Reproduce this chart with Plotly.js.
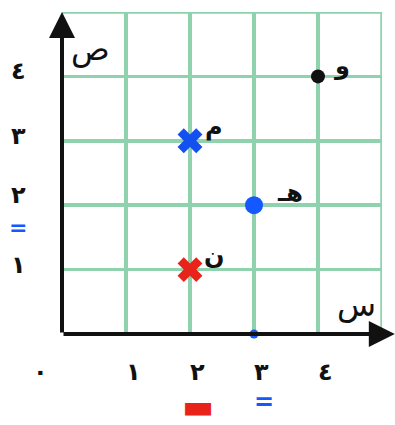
<!DOCTYPE html>
<html>
<head>
<meta charset="utf-8">
<script src="https://cdn.plot.ly/plotly-3.0.1.min.js"></script>
<style>
  body { margin: 0; background: #fff; }
  #chart { width: 395px; height: 425px; }
</style>
</head>
<body>
<div id="chart"></div>
<script>
// النقاط على الشبكة
const names = ['و', 'م', 'هـ', 'ن'];
const px = [4, 2, 3, 2];
const py = [4, 3, 2, 1];
const colors = ['#111111', '#1450f0', '#1458ff', '#e8241a'];
const symbols = ['circle', 'x', 'circle', 'x'];

// نقطة الإسقاط على محور السينات
const footX = [3];
const footY = [0];

// تسميات المحاور
const tickVals = [0, 1, 2, 3, 4];
const tickText = ['٠', '١', '٢', '٣', '٤'];
const yTickVals = [1, 2, 3, 4];
const yTickText = ['١', '٢', '٣', '٤'];
const gridMax = 5;

const green = '#8fd2ad';
const font = 'DejaVu Sans';

const traces = [
  {
    x: px, y: py,
    mode: 'markers',
    type: 'scatter',
    marker: {
      symbol: symbols,
      color: colors,
      opacity: 1,
      size: [14, 22, 18, 22],
      line: { width: 0 }
    },
    cliponaxis: false,
    hoverinfo: 'skip'
  },
  {
    x: footX, y: footY,
    mode: 'markers',
    type: 'scatter',
    marker: { symbol: 'circle', color: '#1458ff', size: 9, opacity: 1 },
    cliponaxis: false,
    hoverinfo: 'skip'
  }
];

const annotations = [];

// أسهم المحاور
annotations.push({
  x: 5.2, y: 0, ax: 0, ay: 0, axref: 'x', ayref: 'y', xref: 'x', yref: 'y',
  text: '', showarrow: true, arrowhead: 2, arrowsize: 1.3, arrowwidth: 4, arrowcolor: '#111'
});
annotations.push({
  x: 0, y: 5, ax: 0, ay: 0, axref: 'x', ayref: 'y', xref: 'x', yref: 'y',
  text: '', showarrow: true, arrowhead: 2, arrowsize: 1.3, arrowwidth: 4, arrowcolor: '#111'
});

// تسميات النقاط
const labelShift = [[24, 10], [24, 14], [36, 12], [24, 14]];
names.forEach((n, i) => {
  annotations.push({
    x: px[i], y: py[i], xref: 'x', yref: 'y', text: '<b>' + n + '</b>',
    showarrow: false, xshift: labelShift[i][0], yshift: labelShift[i][1],
    font: { family: font, size: 24, color: '#111' }
  });
});

// تسميات التدريج
tickVals.forEach((v, i) => {
  annotations.push({
    x: v, y: 0, xref: 'x', yref: 'y', text: '<b>' + tickText[i] + '</b>',
    showarrow: false, xshift: v === 0 ? -22 : 7, yshift: -38,
    font: { family: font, size: 24, color: '#111' }
  });
});
yTickVals.forEach((v, i) => {
  annotations.push({
    x: 0, y: v, xref: 'x', yref: 'y', text: '<b>' + yTickText[i] + '</b>',
    showarrow: false, xshift: -44, yshift: v === 2 ? 10 : 5,
    font: { family: font, size: 24, color: '#111' }
  });
});

// أسماء المحاور
annotations.push({
  x: 0.45, y: 4.42, xref: 'x', yref: 'y', text: 'ص',
  showarrow: false, font: { family: font, size: 32, color: '#111' }
});
annotations.push({
  x: 4.6, y: 0.45, xref: 'x', yref: 'y', text: 'س',
  showarrow: false, font: { family: font, size: 32, color: '#111' }
});

// علامات التساوي الملونة
annotations.push({
  x: 0, y: 2, xref: 'x', yref: 'y', text: '<b>=</b>',
  showarrow: false, xshift: -44, yshift: -22,
  font: { family: font, size: 22, color: '#1458ff' }
});
annotations.push({
  x: 3, y: 0, xref: 'x', yref: 'y', text: '<b>=</b>',
  showarrow: false, xshift: 10, yshift: -68,
  font: { family: font, size: 24, color: '#1458ff' }
});
annotations.push({
  x: 2, y: 0, xref: 'x', yref: 'y', text: '▬',
  showarrow: false, xshift: 8, yshift: -72,
  font: { family: font, size: 34, color: '#e8241a' }
});

// الحد العلوي والأيمن للشبكة
const shapes = [
  { type: 'line', xref: 'x', yref: 'y', x0: 0, x1: gridMax, y0: gridMax, y1: gridMax,
    line: { color: green, width: 3.5 }, layer: 'below' },
  { type: 'line', xref: 'x', yref: 'y', x0: gridMax, x1: gridMax, y0: 0, y1: gridMax,
    line: { color: green, width: 3.5 }, layer: 'below' }
];

const layout = {
  width: 395,
  height: 425,
  margin: { l: 62, r: 13, t: 12, b: 91 },
  paper_bgcolor: '#ffffff',
  plot_bgcolor: '#ffffff',
  showlegend: false,
  xaxis: {
    range: [0, gridMax],
    dtick: 1,
    tick0: 0,
    showgrid: true,
    gridcolor: green,
    gridwidth: 3.5,
    zeroline: false,
    showline: false,
    showticklabels: false,
    ticks: '',
    fixedrange: true
  },
  yaxis: {
    range: [0, gridMax],
    dtick: 1,
    tick0: 0,
    showgrid: true,
    gridcolor: green,
    gridwidth: 3.5,
    zeroline: false,
    showline: false,
    showticklabels: false,
    ticks: '',
    fixedrange: true
  },
  shapes: shapes,
  annotations: annotations
};

Plotly.newPlot('chart', traces, layout, { displayModeBar: false, staticPlot: true });
</script>
</body>
</html>
